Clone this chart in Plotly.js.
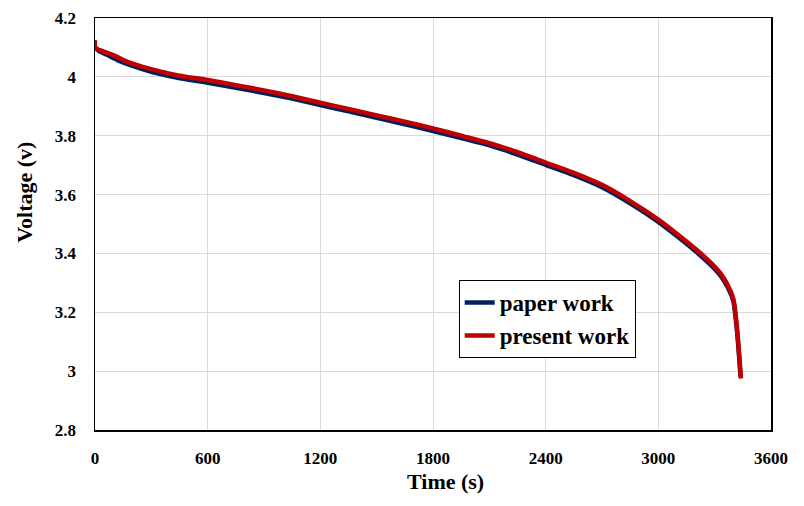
<!DOCTYPE html>
<html>
<head>
<meta charset="utf-8">
<script src="https://cdn.plot.ly/plotly-3.0.1.min.js"></script>
<style>html,body{margin:0;padding:0;background:#fff;}#chart{width:804px;height:506px;}</style>
</head>
<body>
<div id="chart"></div>
<script>
// Paper work (reference data)
const paperTime = [0, 20, 60, 120, 200, 300, 400, 500, 600, 750, 900, 1050, 1200, 1350, 1500, 1650, 1800, 1950, 2100, 2250, 2400, 2550, 2700, 2850, 3000, 3100, 3200, 3280, 3330, 3370, 3400, 3410, 3420, 3430, 3438];
const paperVolt = [4.102, 4.088, 4.076, 4.057, 4.037, 4.017, 4.002, 3.990, 3.980, 3.963, 3.945, 3.926, 3.904, 3.883, 3.861, 3.839, 3.816, 3.792, 3.767, 3.736, 3.701, 3.666, 3.625, 3.570, 3.507, 3.458, 3.406, 3.360, 3.325, 3.284, 3.237, 3.190, 3.130, 3.050, 2.980];
// Present work (simulation)
const presentTime = [0, 0, 10, 50, 100, 176, 250, 357, 450, 600, 750, 900, 1050, 1200, 1350, 1500, 1650, 1800, 1950, 2100, 2250, 2400, 2550, 2700, 2850, 3000, 3100, 3200, 3280, 3330, 3370, 3400, 3410, 3420, 3430, 3440];
const presentVolt = [4.125, 4.100, 4.095, 4.085, 4.073, 4.050, 4.035, 4.017, 4.004, 3.989, 3.972, 3.954, 3.934, 3.912, 3.891, 3.869, 3.848, 3.825, 3.800, 3.775, 3.744, 3.709, 3.674, 3.633, 3.578, 3.515, 3.466, 3.414, 3.368, 3.333, 3.292, 3.245, 3.200, 3.140, 3.060, 2.975];
const seriesNames = ["paper work", "present work"];
const xTicks = [0, 600, 1200, 1800, 2400, 3000, 3600];
const yTicks = [2.8, 3, 3.2, 3.4, 3.6, 3.8, 4, 4.2];
const yTickText = ["2.8", "3", "3.2", "3.4", "3.6", "3.8", "4", "4.2"];
const xTitle = 'Time (s)';
const yTitle = 'Voltage (v)';

const serif = '"Liberation Serif", "Times New Roman", serif';
const traces = [
  {x: paperTime, y: paperVolt, name: seriesNames[0], mode: 'lines', line: {color: '#002060', width: 4.5, shape: 'spline', smoothing: 0.6}},
  {x: presentTime, y: presentVolt, name: seriesNames[1], mode: 'lines', line: {color: '#C00000', width: 4.5, shape: 'spline', smoothing: 0.6}}
];
const layout = {
  width: 804, height: 506,
  margin: {l: 95, r: 33, t: 18, b: 76},
  paper_bgcolor: '#fff', plot_bgcolor: '#fff',
  font: {family: serif, color: '#000', weight: 'bold'},
  showlegend: true,
  legend: {x: 0.538, y: 0.364, xanchor: 'left', yanchor: 'top', bordercolor: '#000', borderwidth: 1,
           bgcolor: '#fff', font: {family: serif, size: 23, color: '#000', weight: 'bold'}, tracegroupgap: 0},
  xaxis: {
    range: [0, 3600], tickvals: xTicks, ticktext: xTicks.map(String),
    showgrid: true, gridcolor: '#d9d9d9', gridwidth: 1, zeroline: false,
    showline: true, linecolor: '#000', linewidth: 1.5, mirror: true, ticks: '',
    ticklabelstandoff: 12,
    tickfont: {family: serif, size: 17, color: '#000', weight: 'bold'}
  },
  yaxis: {
    range: [2.8, 4.2], tickvals: yTicks, ticktext: yTickText,
    showgrid: true, gridcolor: '#d9d9d9', gridwidth: 1, zeroline: false,
    showline: true, linecolor: '#000', linewidth: 1.5, mirror: true, ticks: '',
    ticklabelstandoff: 14,
    tickfont: {family: serif, size: 17, color: '#000', weight: 'bold'}
  },
  annotations: [
    {text: xTitle, xref: 'paper', yref: 'paper', x: 0.519, y: -0.124, xanchor: 'center', yanchor: 'middle', showarrow: false,
     font: {family: serif, size: 22, color: '#000', weight: 'bold'}},
    {text: yTitle, xref: 'paper', yref: 'paper', x: -0.1036, y: 0.578, xanchor: 'center', yanchor: 'middle', showarrow: false, textangle: -90,
     font: {family: serif, size: 22, color: '#000', weight: 'bold'}}
  ]
};
Plotly.newPlot('chart', traces, layout, {displayModeBar: false, staticPlot: true});
</script>
</body>
</html>
